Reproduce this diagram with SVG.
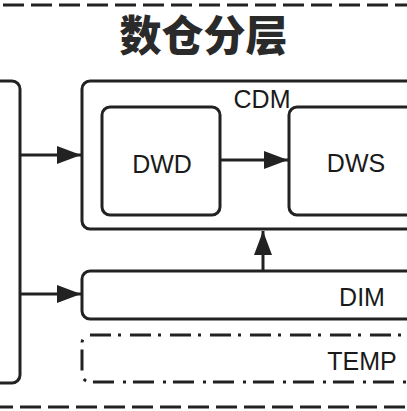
<svg xmlns="http://www.w3.org/2000/svg" width="407" height="411" viewBox="0 0 407 411">
<style>
.box{fill:none;stroke:#222;stroke-width:3}
.temp{fill:none;stroke:#222;stroke-width:3;stroke-dasharray:21 7 3 9}
.sep{fill:none;stroke:#222;stroke-width:3;stroke-dasharray:21 7}
.lbl{font-family:"Liberation Sans",Arial,sans-serif;font-size:25px;fill:#1a1a1a}
.title{font-family:"Noto Sans CJK SC","Noto Sans",sans-serif;font-size:42px;font-weight:900;fill:#2a2a2a}
.conn{fill:none;stroke:#222;stroke-width:3}
</style>
<defs>
<marker id="arr" markerUnits="userSpaceOnUse" markerWidth="24" markerHeight="18" refX="24" refY="9" orient="auto">
<path d="M0,0 L24,9 L0,18 Z" fill="#222"/>
</marker>
</defs>
<rect width="407" height="411" fill="#fff"/>
<line class="sep" x1="3" y1="5" x2="407" y2="5"/>
<line class="sep" x1="0" y1="407" x2="407" y2="407" stroke-dashoffset="8"/>
<text class="title" x="203.5" y="51" text-anchor="middle">数仓分层</text>
<g id="src"><rect class="box" x="-20" y="81" width="40" height="302" rx="8"/></g>
<g id="cdm"><rect class="box" x="82" y="81" width="340" height="148" rx="8"/><text class="lbl" x="262" y="108" text-anchor="middle">CDM</text></g>
<g id="dwd"><rect class="box" x="102" y="107" width="118" height="108" rx="8"/><text class="lbl" x="162" y="173" text-anchor="middle">DWD</text></g>
<g id="dws"><rect class="box" x="289" y="107" width="140" height="108" rx="8"/><text class="lbl" x="356" y="172" text-anchor="middle">DWS</text></g>
<g id="dim"><rect class="box" x="82" y="271" width="340" height="48" rx="8"/><text class="lbl" x="362" y="306" text-anchor="middle">DIM</text></g>
<g id="temp"><rect class="temp" x="82" y="335" width="340" height="47" rx="8"/><text class="lbl" x="362" y="370" text-anchor="middle">TEMP</text></g>
<g id="connectors">
<line class="conn" x1="20" y1="155" x2="81" y2="155" marker-end="url(#arr)"/>
<line class="conn" x1="20" y1="294" x2="81" y2="294" marker-end="url(#arr)"/>
<line class="conn" x1="221" y1="160" x2="288" y2="160" marker-end="url(#arr)"/>
<line class="conn" x1="263" y1="270" x2="263" y2="231" marker-end="url(#arr)"/>
</g>
</svg>
